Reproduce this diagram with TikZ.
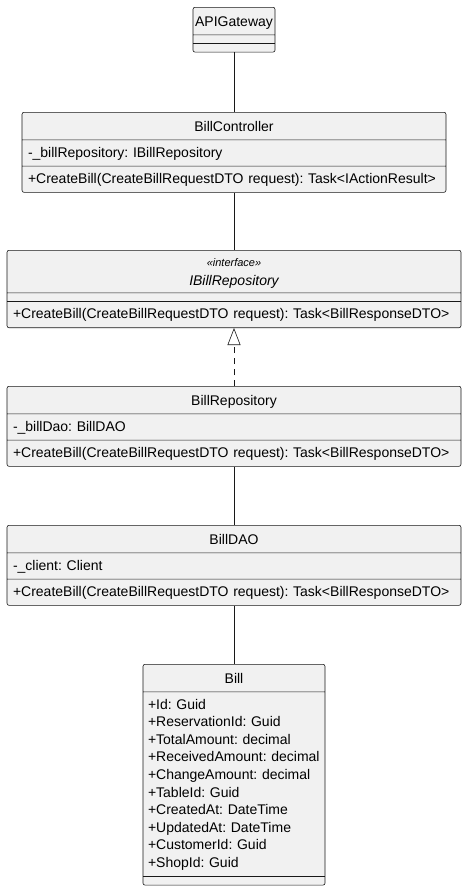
\documentclass[tikz,border=0pt]{standalone}
\usepackage{fontspec}
\setmainfont{Liberation Sans}
\usetikzlibrary{shapes}
\usetikzlibrary{arrows.meta}
\usetikzlibrary{positioning}
\definecolor{umlfill}{HTML}{F1F1F1}
\definecolor{umlline}{HTML}{181818}
\newcommand{\headstrut}{\rule[-4pt]{0pt}{19pt}}
\newcommand{\rowstrut}{\rule[-4.8pt]{0pt}{17.6pt}}
\newcommand{\classname}[1]{\hspace*{\fill}#1\hspace*{\fill}\null}
\frenchspacing
\hyphenpenalty=10000
\begin{document}
\begin{tikzpicture}[x=1pt,y=1pt]
				\tikzstyle{umlclass}=[rectangle split, rectangle split parts=3, draw=umlline, fill=umlfill, line width=0.6pt, rounded corners=2pt, inner xsep=6pt, inner ysep=4pt, align=left, anchor=north, font=\fontsize{14}{17.6}\selectfont]
				\tikzstyle{assoc}=[draw=umlline, line width=0.6pt]
				\tikzstyle{realize}=[assoc, dash pattern=on 6pt off 5pt, -{Triangle[open, length=17pt, width=13pt, fill=white]}]
				\useasboundingbox (0,0) rectangle (467,-889);
				\node[umlclass, text width=78pt, inner xsep=2pt] (api) at (234,-7) {\classname{\headstrut APIGateway} \nodepart{two} \nodepart{three}};
				\node[umlclass, text width=412pt] (ctrl) at (234,-112) {\classname{\headstrut BillController}
					\nodepart{two}\rowstrut -\_billRepository: IBillRepository
					\nodepart{three}\rowstrut +CreateBill(CreateBillRequestDTO request): Task<IActionResult>};
				\node[umlclass, text width=442pt] (iface) at (234,-250) {\classname{\rule{0pt}{12pt}{\fontsize{11}{13}\selectfont\itshape «interface»}}\\[1.4pt]\classname{\itshape IBillRepository\rule[-3pt]{0pt}{3pt}}
					\nodepart{two}
					\nodepart{three}\rowstrut +CreateBill(CreateBillRequestDTO request): Task<BillResponseDTO>};
				\node[umlclass, text width=442pt] (repo) at (234,-386) {\classname{\headstrut BillRepository}
					\nodepart{two}\rowstrut -\_billDao: BillDAO
					\nodepart{three}\rowstrut +CreateBill(CreateBillRequestDTO request): Task<BillResponseDTO>};
				\node[umlclass, text width=442pt] (dao) at (234,-525) {\classname{\headstrut BillDAO}
					\nodepart{two}\rowstrut -\_client: Client
					\nodepart{three}\rowstrut +CreateBill(CreateBillRequestDTO request): Task<BillResponseDTO>};
				\node[umlclass, text width=172pt, inner xsep=5pt] (bill) at (234,-664) {\classname{\headstrut Bill}
					\nodepart{two}\rowstrut +Id: Guid\\
					\rowstrut +ReservationId: Guid\\
					\rowstrut +TotalAmount: decimal\\
					\rowstrut +ReceivedAmount: decimal\\
					\rowstrut +ChangeAmount: decimal\\
					\rowstrut +TableId: Guid\\
					\rowstrut +CreatedAt: DateTime\\
					\rowstrut +UpdatedAt: DateTime\\
					\rowstrut +CustomerId: Guid\\
					\rowstrut +ShopId: Guid
					\nodepart{three}};
				\draw[assoc] (api) -- (ctrl);
				\draw[assoc] (ctrl) -- (iface);
				\draw[realize] (repo) -- (iface);
				\draw[assoc] (repo) -- (dao);
				\draw[assoc] (dao) -- (bill);
\end{tikzpicture}
\end{document}
